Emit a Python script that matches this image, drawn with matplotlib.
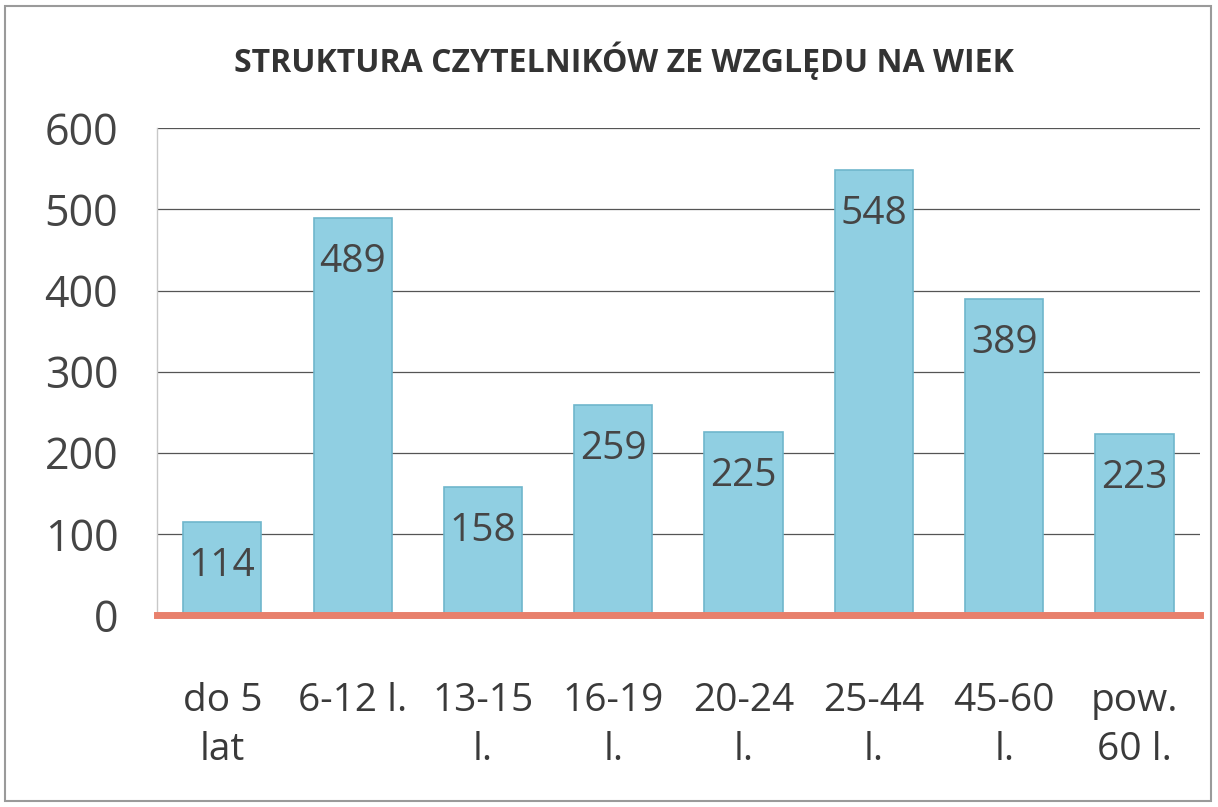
import matplotlib.pyplot as plt
from matplotlib.patches import Rectangle

categories = ["do 5\nlat", "6-12 l.", "13-15\nl.", "16-19\nl.", "20-24\nl.",
              "25-44\nl.", "45-60\nl.", "pow.\n60 l."]
values = [114, 489, 158, 259, 225, 548, 389, 223]
yticks = [0, 100, 200, 300, 400, 500, 600]


def main():
    plt.rcParams['font.family'] = ['Open Sans', 'DejaVu Sans']
    fig = plt.figure(figsize=(12.18, 8.07), dpi=100)
    ax = fig.add_axes([0.129, 0.238, 0.856, 0.603])

    x = range(len(values))
    bars = ax.bar(x, values, width=0.6, color="#90cfe2", edgecolor="#6fb6cc",
                  linewidth=1.2, zorder=3)

    for b, v in zip(bars, values):
        ax.annotate(str(v), (b.get_x() + b.get_width() / 2, v),
                    xytext=(0, -18), textcoords="offset points",
                    ha="center", va="top", fontsize=28, color="#454545", zorder=4)

    ax.set_ylim(0, 600)
    ax.set_xlim(-0.5, len(values) - 0.5)
    ax.set_yticks(yticks)
    ax.set_yticklabels([str(t) for t in yticks], fontsize=31, color="#454545")
    ax.set_xticks(list(x))
    ax.set_xticklabels(categories, fontsize=28, color="#3a3a3a", linespacing=1.4,
                       va="top")
    ax.tick_params(axis="both", length=0)
    ax.tick_params(axis="x", pad=48)
    ax.tick_params(axis="y", pad=28)

    ax.grid(axis="y", color="#555555", linewidth=0.9, zorder=0)
    for s in ["top", "right", "bottom"]:
        ax.spines[s].set_visible(False)
    ax.spines["left"].set_color("#c8c8c8")
    ax.spines["left"].set_linewidth(1.0)
    ax.axhline(0, color="#e8806c", linewidth=5, zorder=5, clip_on=False)

    fig.text(0.512, 0.925, "STRUKTURA CZYTELNIKÓW ZE WZGLĘDU NA WIEK",
             ha="center", va="center", fontsize=23, fontweight="bold",
             color="#333333")

    fig.patches.append(Rectangle((0.004, 0.008), 0.99, 0.985, transform=fig.transFigure,
                                 fill=False, edgecolor="#9a9a9a", linewidth=1.5))

    fig.savefig("out.png", dpi=100)


if __name__ == "__main__":
    main()
